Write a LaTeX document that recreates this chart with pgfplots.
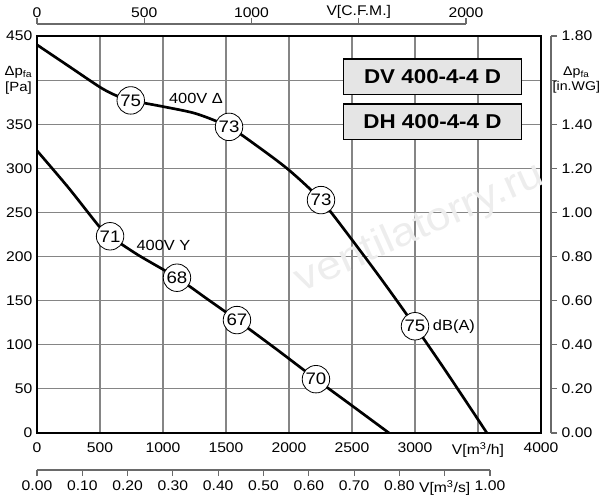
\documentclass[border=0pt]{standalone}
\usepackage{pgfplots}
\pgfplotsset{compat=1.18}
\usepackage{fontspec}
\setmainfont{Liberation Sans}[FakeStretch=1.12]
\definecolor{gridc}{HTML}{858585}
\definecolor{axc}{HTML}{6A6A6A}
\pgfplotsset{every tick label/.append style={font=\fontsize{10.5}{12.5}\selectfont}}
\begin{document}
\begin{tikzpicture}
\useasboundingbox (-27.75pt,-50.25pt) rectangle (422.25pt,324.75pt);
% main axis
\begin{axis}[
  at={(0pt,0pt)}, anchor=south west, scale only axis,
  width=378pt, height=297.75pt,
  xmin=0, xmax=4000, ymin=0, ymax=450,
  xtick={0,500,1000,1500,2000,2500,3000,3500,4000},
  ytick={0,50,100,150,200,250,300,350,400,450},
  xticklabels={0,500,1000,1500,2000,2500,3000,V[m\textsuperscript{3}/h],4000},
  yticklabels={0,50,100,150,200,250,300,350,{},450},
  xticklabel style={yshift=-3.5pt},
  extra y ticks={400},
  extra y tick labels={Δp\textsubscript{fa}\\{}[Pa]},
  extra y tick style={grid=none, yticklabel style={font=\fontsize{10}{12}\selectfont, align=center}},
  grid=major, grid style={gridc, line width=0.9pt},
  major tick length=0pt, tick style={draw=none},
  axis line style={black, line width=2.2pt},
]
\node[rotate=24, text=black!7, font=\fontsize{30}{30}\selectfont] at (axis cs:3040,232) {ventilatorry.ru};
% 400V Delta
\addplot[black, line width=2pt, smooth, tension=0.45] coordinates {
 (0,440) (250,416) (500,392) (620,383) (744,377) (1000,370) (1262,362)
 (1524,347) (1750,325) (2000,298) (2254,264) (2500,219) (2750,171)
 (3000,121) (3250,69) (3571,0)};
% 400V Y
\addplot[black, line width=2pt, smooth, tension=0.45] coordinates {
 (0,320) (250,278) (500,233) (580,223) (800,202) (1111,176) (1350,152)
 (1587,128) (1900,95) (2214,61) (2500,31) (2794,0)};
\addplot[only marks, mark=*, mark size=10.3pt,
  mark options={fill=white, draw=black, line width=0.6pt},
  nodes near coords, point meta=explicit symbolic,
  every node near coord/.append style={anchor=center, font=\fontsize{12.5}{13}\selectfont}]
  table[meta=label] {
x y label
744 377 75
1524 347 73
2254 264 73
3000 121 75
580 223 71
1111 176 68
1587 128 67
2214 61 70
};
\node[font=\fontsize{11}{12}\selectfont] at (axis cs:1262,379) {400V Δ};
\node[font=\fontsize{11}{12}\selectfont] at (axis cs:1004,213) {400V Y};
\node[anchor=west, inner sep=1pt, font=\fontsize{11}{12}\selectfont] at (axis cs:3130,120) {dB(A)};
\node[draw=black, fill=gray!20, line width=0.9pt, minimum width=134pt, minimum height=26.5pt, inner sep=0pt,
  font=\bfseries\fontsize{15}{16}\selectfont] at (axis cs:3139,404) {DV 400-4-4 D};
\node[draw=black, fill=gray!20, line width=0.9pt, minimum width=134pt, minimum height=26.5pt, inner sep=0pt,
  font=\bfseries\fontsize{15}{16}\selectfont] at (axis cs:3139,353) {DH 400-4-4 D};
\end{axis}
% top CFM axis
\begin{axis}[
  at={(0pt,306.75pt)}, anchor=north west, scale only axis,
  width=321.75pt, height=5pt,
  xmin=0, xmax=2000, ymin=0, ymax=1,
  axis x line=top, axis y line=none,
  axis line style={-, axc, line width=0.8pt},
  xtick={0,500,1000,1500,2000},
  xticklabels={0,500,1000,V[C.F.M.],2000},
  xticklabel style={yshift=-3.5pt},
  tick align=outside, major tick length=4.5pt,
  tick style={axc, line width=0.8pt},
]
\addplot[draw=none] coordinates {(0,0)};
\end{axis}
% bottom m3/s axis
\begin{axis}[
  at={(0pt,-27.75pt)}, anchor=south west, scale only axis,
  width=339.75pt, height=5pt,
  xmin=0, xmax=1, ymin=0, ymax=1,
  axis x line=bottom, axis y line=none,
  axis line style={-, axc, line width=0.8pt},
  xtick={0,0.1,0.2,0.3,0.4,0.5,0.6,0.7,0.8,0.9,1},
  xticklabels={0.00,0.10,0.20,0.30,0.40,0.50,0.60,0.70,0.80,V[m\textsuperscript{3}/s],1.00},
  tick align=outside, major tick length=4.5pt,
  tick style={axc, line width=0.8pt},
]
\addplot[draw=none] coordinates {(0,0)};
\end{axis}
% right in.WG axis
\begin{axis}[
  at={(385.5pt,0pt)}, anchor=south east, scale only axis,
  width=5pt, height=297.75pt,
  xmin=0, xmax=1, ymin=0, ymax=1.8,
  axis y line=right, axis x line=none,
  axis line style={-, axc, line width=0.8pt},
  ytick={0,0.2,0.4,0.6,0.8,1.0,1.2,1.4,1.8},
  yticklabels={0.00,0.20,0.40,0.60,0.80,1.00,1.20,1.40,1.80},
  extra y ticks={1.6},
  extra y tick labels={Δp\textsubscript{fa}\\{}[in.WG]},
  extra y tick style={yticklabel style={font=\fontsize{9.5}{11.5}\selectfont, align=center, xshift=-6.75pt}},
  tick align=outside, major tick length=4.5pt,
  tick style={axc, line width=0.8pt},
]
\addplot[draw=none] coordinates {(0,0)};
\end{axis}
\end{tikzpicture}
\end{document}
